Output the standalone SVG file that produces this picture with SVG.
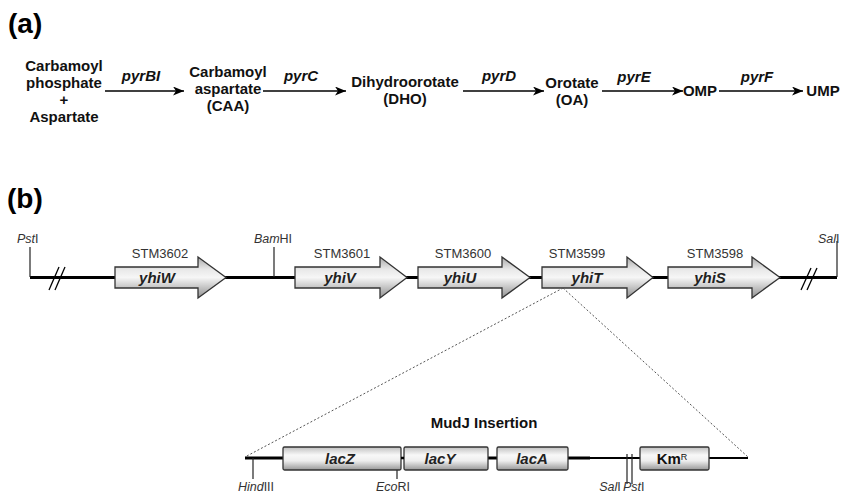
<svg xmlns="http://www.w3.org/2000/svg" width="841" height="500" viewBox="0 0 841 500">
<defs>
  <marker id="ah" viewBox="0 0 11 9" refX="11" refY="4.5" markerWidth="11" markerHeight="9" markerUnits="userSpaceOnUse" orient="auto">
    <path d="M0,0 L11,4.5 L0,9 L3,4.5 z" fill="#000"/>
  </marker>
  <linearGradient id="gArrow" x1="0" y1="0" x2="0" y2="1">
    <stop offset="0" stop-color="#a8a8a8"/>
    <stop offset="0.3" stop-color="#e8e8e8"/>
    <stop offset="0.5" stop-color="#f6f6f6"/>
    <stop offset="1" stop-color="#909090"/>
  </linearGradient>
  <linearGradient id="gBox" x1="0" y1="0" x2="0" y2="1">
    <stop offset="0" stop-color="#c0c0c0"/>
    <stop offset="0.35" stop-color="#f8f8f8"/>
    <stop offset="0.6" stop-color="#eeeeee"/>
    <stop offset="1" stop-color="#989898"/>
  </linearGradient>
  <style>
    .hd { font-family: "Liberation Sans", Arial, sans-serif; font-weight: bold; font-size: 28px; fill: #000; }
    .cmp { font-family: "Liberation Sans", Arial, sans-serif; font-weight: bold; font-size: 15px; fill: #111; text-anchor: middle; }
    .enz { font-family: "Liberation Sans", Arial, sans-serif; font-weight: bold; font-style: italic; font-size: 15px; fill: #111; text-anchor: middle; }
    .stm { font-family: "Liberation Sans", Arial, sans-serif; font-size: 13px; fill: #333; text-anchor: middle; }
    .gene { font-family: "Liberation Sans", Arial, sans-serif; font-weight: bold; font-style: italic; font-size: 15px; fill: #222; text-anchor: middle; }
    .site { font-family: "Liberation Sans", Arial, sans-serif; font-size: 12.5px; fill: #333; }
    .it { font-style: italic; }
    .conn { stroke: #000; stroke-width: 1.6; fill: none; }
    .dna { stroke: #000; fill: none; }
    .garrow { fill: url(#gArrow); stroke: #333; stroke-width: 1.3; }
    .box { fill: url(#gBox); stroke: #333; stroke-width: 1.3; }
    .tick { stroke: #222; stroke-width: 1.2; fill: none; }
    .dots { stroke: #555; stroke-width: 1; stroke-dasharray: 2 2; fill: none; }
  </style>
</defs>
<rect width="841" height="500" fill="#fff"/>

<!-- Panel (a) -->
<text class="hd" x="8" y="33">(a)</text>

<g id="n-cp">
  <text class="cmp" x="64" y="71">Carbamoyl</text>
  <text class="cmp" x="64" y="88">phosphate</text>
  <text class="cmp" x="64" y="105">+</text>
  <text class="cmp" x="64" y="122">Aspartate</text>
</g>
<g id="n-caa">
  <text class="cmp" x="228" y="77">Carbamoyl</text>
  <text class="cmp" x="228" y="94">aspartate</text>
  <text class="cmp" x="228" y="111">(CAA)</text>
</g>
<g id="n-dho">
  <text class="cmp" x="405" y="87">Dihydroorotate</text>
  <text class="cmp" x="405" y="104">(DHO)</text>
</g>
<g id="n-oa">
  <text class="cmp" x="572" y="88">Orotate</text>
  <text class="cmp" x="572" y="105">(OA)</text>
</g>
<g id="n-omp">
  <text class="cmp" x="700" y="96">OMP</text>
</g>
<g id="n-ump">
  <text class="cmp" x="823" y="96">UMP</text>
</g>

<g id="connectors-a">
  <line class="conn" x1="105" y1="91" x2="184" y2="91" marker-end="url(#ah)"/>
  <line class="conn" x1="263" y1="91" x2="346" y2="91" marker-end="url(#ah)"/>
  <line class="conn" x1="463" y1="91" x2="544" y2="91" marker-end="url(#ah)"/>
  <line class="conn" x1="602" y1="91" x2="683" y2="91" marker-end="url(#ah)"/>
  <line class="conn" x1="719" y1="91" x2="803" y2="91" marker-end="url(#ah)"/>
  <text class="enz" x="141" y="81">pyrBI</text>
  <text class="enz" x="301" y="81">pyrC</text>
  <text class="enz" x="499" y="81">pyrD</text>
  <text class="enz" x="634" y="82">pyrE</text>
  <text class="enz" x="757" y="82">pyrF</text>
</g>

<!-- Panel (b) -->
<text class="hd" x="7" y="208">(b)</text>

<g id="chromosome">
  <line class="dna" x1="30" y1="277.5" x2="837" y2="277.5" stroke-width="3"/>
  <polyline class="tick" points="30,247 30,277"/>
  <polyline class="tick" points="837,241 837,277"/>
  <line class="tick" x1="274" y1="247" x2="274" y2="277"/>
  <line stroke="#000" stroke-width="1.3" x1="49" y1="290" x2="59" y2="267"/>
  <line stroke="#000" stroke-width="1.3" x1="55" y1="290" x2="65" y2="267"/>
  <line stroke="#000" stroke-width="1.3" x1="801" y1="290" x2="811" y2="268"/>
  <line stroke="#000" stroke-width="1.3" x1="807" y1="290" x2="817" y2="268"/>
  <text class="site" x="17" y="243"><tspan class="it">Pst</tspan>I</text>
  <text class="site" x="273" y="243" text-anchor="middle"><tspan class="it">Bam</tspan>HI</text>
  <text class="site" x="818" y="243"><tspan class="it">Sal</tspan>I</text>
</g>

<g id="g-yhiW">
  <polygon class="garrow" points="115,267 198,267 198,257 226,277.5 198,298 198,288 115,288"/>
  <text class="stm" x="160" y="258">STM3602</text>
  <text class="gene" x="157" y="283">yhiW</text>
</g>
<g id="g-yhiV">
  <polygon class="garrow" points="295,267 380,267 380,257 407,277.5 380,298 380,288 295,288"/>
  <text class="stm" x="342" y="258">STM3601</text>
  <text class="gene" x="340" y="283">yhiV</text>
</g>
<g id="g-yhiU">
  <polygon class="garrow" points="418,267 502,267 502,257 530,277.5 502,298 502,288 418,288"/>
  <text class="stm" x="463" y="258">STM3600</text>
  <text class="gene" x="460" y="283">yhiU</text>
</g>
<g id="g-yhiT">
  <polygon class="garrow" points="542,267 627,267 627,257 653,277.5 627,298 627,288 542,288"/>
  <text class="stm" x="577" y="258">STM3599</text>
  <text class="gene" x="587" y="283">yhiT</text>
</g>
<g id="g-yhiS">
  <polygon class="garrow" points="668,267 752,267 752,257 780,277.5 752,298 752,288 668,288"/>
  <text class="stm" x="715" y="258">STM3598</text>
  <text class="gene" x="710" y="283">yhiS</text>
</g>

<g id="connectors-b">
  <line class="dots" x1="563" y1="288" x2="245" y2="457"/>
  <line class="dots" x1="563" y1="288" x2="748" y2="457"/>
</g>

<text class="cmp" x="484" y="428">MudJ Insertion</text>

<g id="insertion">
  <line class="dna" x1="245" y1="458" x2="285" y2="458" stroke-width="3"/>
  <line class="dna" x1="285" y1="458" x2="748" y2="458" stroke-width="2"/>
  <line class="dna" x1="486" y1="458" x2="499" y2="458" stroke-width="3"/>
  <line class="dna" x1="566" y1="458" x2="590" y2="458" stroke-width="3"/>
  <line class="tick" x1="253" y1="458" x2="253" y2="479"/>
  <line class="tick" x1="397" y1="470" x2="397" y2="479"/>
  <line class="tick" x1="627" y1="454" x2="627" y2="484"/>
  <line class="tick" x1="632" y1="454" x2="632" y2="484"/>
  <text class="site" x="256" y="491" text-anchor="middle"><tspan class="it">Hind</tspan>III</text>
  <text class="site" x="393" y="491" text-anchor="middle"><tspan class="it">Eco</tspan>RI</text>
  <text class="site" x="610" y="491" text-anchor="middle"><tspan class="it">Sal</tspan>I</text>
  <text class="site" x="623" y="491"><tspan class="it">Pst</tspan>I</text>
</g>

<g id="b-lacZ">
  <rect class="box" x="283" y="447" width="118" height="23" rx="1.5"/>
  <text class="gene" x="340" y="464">lacZ</text>
</g>
<g id="b-lacY">
  <rect class="box" x="404" y="447" width="84" height="23" rx="1.5"/>
  <text class="gene" x="440" y="464">lacY</text>
</g>
<g id="b-lacA">
  <rect class="box" x="497" y="447" width="71" height="23" rx="1.5"/>
  <text class="gene" x="532" y="464">lacA</text>
</g>
<g id="b-KmR">
  <rect class="box" x="640" y="447" width="69" height="23" rx="1.5"/>
  <text class="cmp" x="672" y="464">Km<tspan font-size="9" font-weight="normal" dy="-4">R</tspan></text>
</g>
<line stroke="#000" stroke-width="2.5" x1="401" y1="458" x2="404" y2="458"/>
</svg>
